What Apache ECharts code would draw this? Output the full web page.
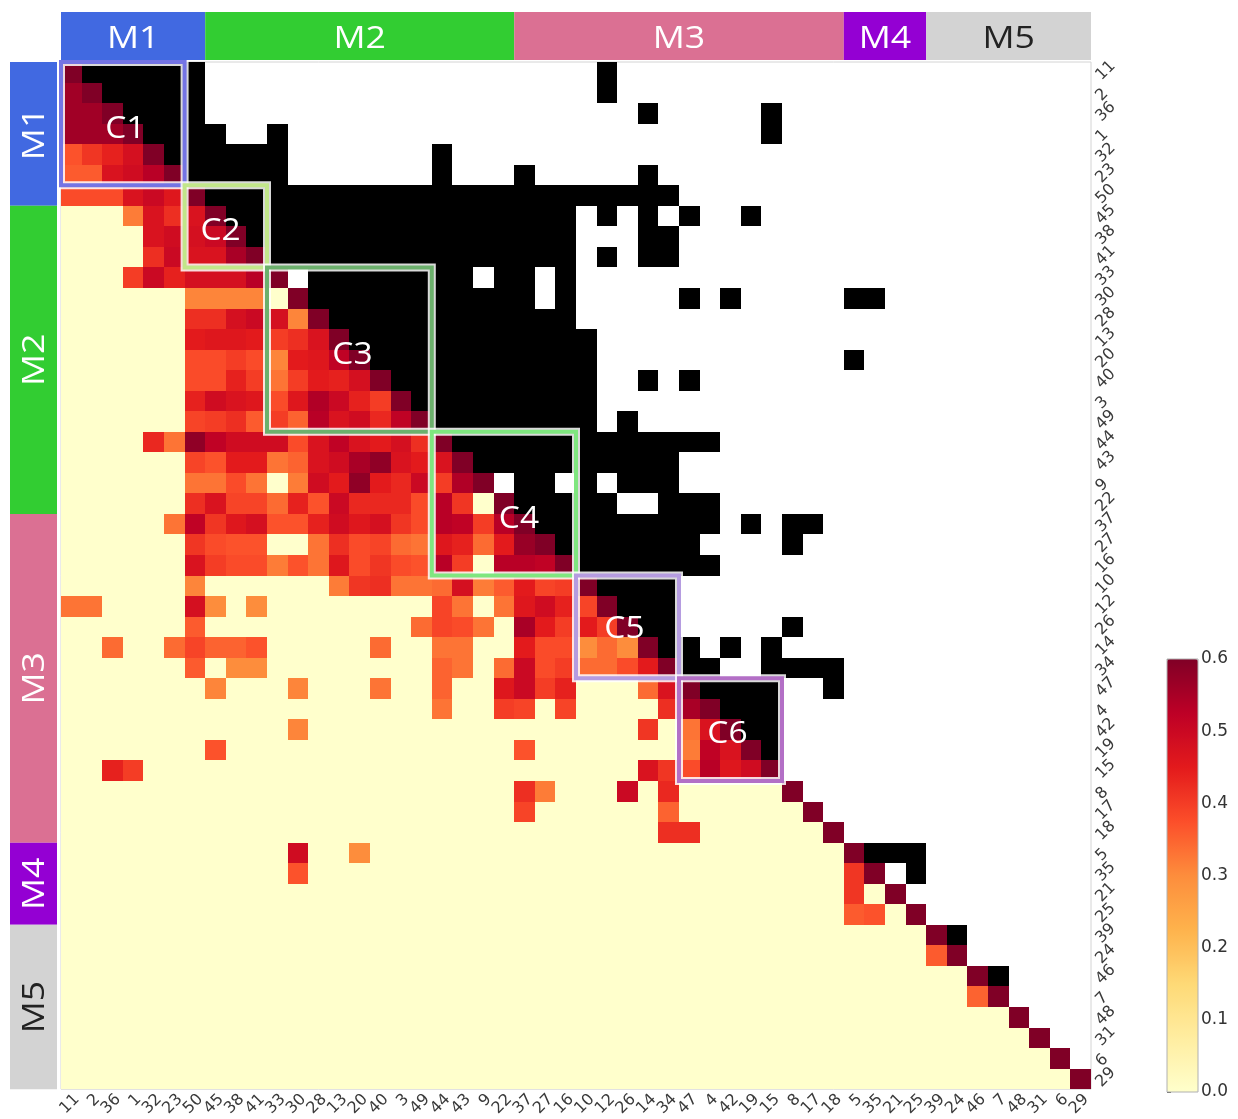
<!DOCTYPE html>
<html>
<head>
<meta charset="utf-8">
<script src="https://cdn.jsdelivr.net/npm/echarts@6/dist/echarts.min.js"></script>
<style>
  html, body { margin: 0; padding: 0; background: #fff; }
  #chart { width: 1238px; height: 1119px; }
</style>
</head>
<body>
<div id="chart"></div>
<script>
// Taxa in clustered order (rows top-to-bottom, columns left-to-right)
const taxa = ['11','2','36','1','32','23','50','45','38','41','33','30','28','13','20','40','3','49',
  '44','43','9','22','37','27','16','10','12','26','14','34','47','4','42','19','15','8','17','18',
  '5','35','21','25','39','24','46','7','48','31','6','29'];

// Modules: name, first index, last index
const moduleNames = ['M1', 'M2', 'M3', 'M4', 'M5'];
const moduleSpans = [[0, 6], [7, 21], [22, 37], [38, 41], [42, 49]];
const moduleColors = ['#4169e1', '#32cd32', '#db7093', '#9400d3', '#d3d3d3'];
const moduleTextColors = ['#ffffff', '#ffffff', '#ffffff', '#ffffff', '#222222'];

// Clusters along the diagonal
const clusterNames = ['C1', 'C2', 'C3', 'C4', 'C5', 'C6'];
const clusterSpans = [[0, 5], [6, 9], [10, 17], [18, 24], [25, 29], [30, 34]];
const clusterColors = ['#7474e4', '#c2e68a', '#6cb06c', '#7fe67f', '#b59ce0', '#b36fc6'];
// label nudge inside each box, in cell units (x, y)
const clusterLabelNudge = [[0.12, 0.26], [-0.25, 0.25], [0.15, 0.25], [0.73, 0.73], [-0.15, 0.1], [-0.15, 0.2]];

// Diagonal cells
const diagValue = 0.6;

// Lower triangle: [row, col, value]; any cell not listed is 0
const corrCells = [
  [1,0,.56],
  [2,0,.56],[2,1,.56],
  [3,0,.56],[3,1,.56],[3,2,.56],
  [4,0,.37],[4,1,.41],[4,2,.44],[4,3,.48],
  [5,0,.36],[5,1,.36],[5,2,.47],[5,3,.49],[5,4,.53],
  [6,0,.38],[6,1,.38],[6,2,.38],[6,3,.47],[6,4,.50],[6,5,.46],
  [7,3,.32],[7,4,.47],[7,5,.42],[7,6,.47],
  [8,4,.47],[8,5,.49],[8,6,.48],[8,7,.50],
  [9,4,.42],[9,5,.50],[9,6,.47],[9,7,.47],[9,8,.55],
  [10,3,.40],[10,4,.50],[10,5,.44],[10,6,.48],[10,7,.48],[10,8,.48],[10,9,.53],
  [11,6,.31],[11,7,.31],[11,8,.31],[11,9,.31],
  [12,6,.42],[12,7,.42],[12,8,.48],[12,9,.50],[12,10,.48],[12,11,.31],
  [13,6,.45],[13,7,.46],[13,8,.46],[13,9,.45],[13,10,.40],[13,11,.42],[13,12,.47],
  [14,6,.38],[14,7,.38],[14,8,.40],[14,9,.38],[14,10,.31],[14,11,.45],[14,12,.46],[14,13,.52],
  [15,6,.38],[15,7,.38],[15,8,.44],[15,9,.40],[15,10,.33],[15,11,.40],[15,12,.45],[15,13,.44],[15,14,.48],
  [16,6,.44],[16,7,.49],[16,8,.47],[16,9,.46],[16,10,.38],[16,11,.46],[16,12,.54],[16,13,.50],[16,14,.44],[16,15,.40],
  [17,6,.39],[17,7,.40],[17,8,.42],[17,9,.36],[17,10,.40],[17,11,.35],[17,12,.53],[17,13,.47],[17,14,.49],[17,15,.43],[17,16,.52],
  [18,4,.43],[18,5,.33],[18,6,.58],[18,7,.52],[18,8,.49],[18,9,.49],[18,10,.49],[18,11,.38],[18,12,.47],[18,13,.52],[18,14,.47],[18,15,.45],[18,16,.48],[18,17,.42],
  [19,6,.39],[19,7,.37],[19,8,.45],[19,9,.45],[19,10,.33],[19,11,.35],[19,12,.47],[19,13,.49],[19,14,.55],[19,15,.58],[19,16,.47],[19,17,.45],[19,18,.47],
  [20,6,.33],[20,7,.33],[20,8,.38],[20,9,.33],[20,11,.32],[20,12,.49],[20,13,.45],[20,14,.58],[20,15,.45],[20,16,.43],[20,17,.50],[20,18,.40],[20,19,.54],
  [21,6,.42],[21,7,.47],[21,8,.39],[21,9,.39],[21,10,.34],[21,11,.44],[21,12,.37],[21,13,.50],[21,14,.43],[21,15,.43],[21,16,.43],[21,17,.38],[21,18,.53],[21,19,.41],
  [22,5,.33],[22,6,.52],[22,7,.41],[22,8,.46],[22,9,.48],[22,10,.37],[22,11,.37],[22,12,.44],[22,13,.49],[22,14,.46],[22,15,.48],[22,16,.41],[22,17,.38],[22,18,.53],[22,19,.52],[22,20,.40],[22,21,.53],
  [23,6,.41],[23,7,.38],[23,8,.37],[23,9,.37],[23,12,.33],[23,13,.42],[23,14,.38],[23,15,.39],[23,16,.34],[23,17,.33],[23,18,.46],[23,19,.44],[23,20,.34],[23,21,.45],[23,22,.57],
  [24,6,.47],[24,7,.40],[24,8,.38],[24,9,.38],[24,10,.32],[24,11,.37],[24,12,.33],[24,13,.46],[24,14,.38],[24,15,.41],[24,16,.38],[24,17,.37],[24,18,.53],[24,19,.40],[24,21,.53],[24,22,.53],[24,23,.52],
  [25,6,.31],[25,13,.32],[25,14,.41],[25,15,.42],[25,16,.33],[25,17,.33],[25,18,.34],[25,19,.48],[25,20,.32],[25,21,.36],[25,22,.45],[25,23,.39],[25,24,.40],
  [26,0,.33],[26,1,.33],[26,6,.48],[26,7,.30],[26,9,.30],[26,18,.39],[26,19,.33],[26,21,.33],[26,22,.46],[26,23,.49],[26,24,.44],[26,25,.39],
  [27,6,.36],[27,17,.34],[27,18,.39],[27,19,.38],[27,20,.33],[27,22,.55],[27,23,.45],[27,24,.40],[27,25,.45],[27,26,.40],
  [28,2,.34],[28,5,.34],[28,6,.39],[28,7,.35],[28,8,.35],[28,9,.37],[28,15,.34],[28,18,.33],[28,19,.33],[28,22,.45],[28,23,.38],[28,24,.38],[28,25,.30],[28,26,.34],[28,27,.30],
  [29,6,.36],[29,8,.30],[29,9,.30],[29,18,.35],[29,19,.33],[29,21,.34],[29,22,.50],[29,23,.38],[29,24,.40],[29,25,.34],[29,26,.34],[29,27,.38],[29,28,.45],
  [30,7,.31],[30,11,.31],[30,15,.33],[30,18,.35],[30,21,.46],[30,22,.50],[30,23,.40],[30,24,.44],[30,28,.34],[30,29,.47],
  [31,18,.33],[31,21,.40],[31,22,.39],[31,24,.39],[31,29,.42],[31,30,.55],
  [32,11,.31],[32,28,.41],[32,30,.33],[32,31,.47],
  [33,7,.37],[33,22,.37],[33,30,.32],[33,31,.52],[33,32,.47],
  [34,2,.44],[34,3,.40],[34,28,.47],[34,29,.41],[34,30,.38],[34,31,.53],[34,32,.46],[34,33,.49],
  [35,22,.42],[35,23,.32],[35,27,.50],[35,29,.43],
  [36,22,.39],[36,29,.35],
  [37,29,.42],[37,30,.42],
  [38,11,.49],[38,14,.30],
  [39,11,.37],[39,38,.41],
  [40,38,.41],
  [41,38,.36],[41,39,.37],
  [43,42,.36],
  [45,44,.35]
];

// Upper triangle, significant pairs: [row, first col, last col]
const sigRuns = [
  [0,1,6],[0,26,26],
  [1,2,6],[1,26,26],
  [2,3,6],[2,28,28],[2,34,34],
  [3,4,7],[3,10,10],[3,34,34],
  [4,5,10],[4,18,18],
  [5,6,10],[5,18,18],[5,22,22],[5,28,28],
  [6,7,29],
  [7,8,24],[7,26,26],[7,28,28],[7,30,30],[7,33,33],
  [8,9,24],[8,28,29],
  [9,10,24],[9,26,26],[9,28,29],
  [10,12,19],[10,21,22],[10,24,24],
  [11,12,22],[11,24,24],[11,30,30],[11,32,32],[11,38,39],
  [12,13,24],
  [13,14,25],
  [14,15,25],[14,38,38],
  [15,16,25],[15,28,28],[15,30,30],
  [16,17,25],
  [17,18,25],[17,27,27],
  [18,19,31],
  [19,20,29],
  [20,22,23],[20,25,25],[20,27,29],
  [21,22,26],[21,29,31],
  [22,23,31],[22,33,33],[22,35,36],
  [23,24,30],[23,35,35],
  [24,25,31],
  [25,26,29],
  [26,27,29],
  [27,28,29],[27,35,35],
  [28,29,30],[28,32,32],[28,34,34],
  [29,30,31],[29,34,37],
  [30,31,34],[30,37,37],
  [31,32,34],
  [32,33,34],
  [33,34,34],
  [38,39,41],
  [39,41,41],
  [42,43,43],
  [44,45,45]
];

const colorScale = ['#ffffcc','#ffeda0','#fed976','#feb24c','#fd8d3c','#fc4e2a','#e31a1c','#bd0026','#800026'];

// ---- build series data ----
const n = taxa.length;
const lowerMap = {};
corrCells.forEach(([r, c, v]) => { lowerMap[r + ',' + c] = v; });
const heatData = [];
for (let r = 0; r < n; r++) {
  for (let c = 0; c <= r; c++) {
    const v = c === r ? diagValue : (lowerMap[r + ',' + c] !== undefined ? lowerMap[r + ',' + c] : 0);
    heatData.push([c, r, v]);
  }
}
const sigData = [];
sigRuns.forEach(([r, a, b]) => { for (let c = a; c <= b; c++) sigData.push([c, r]); });

const clusterData = clusterSpans.map((s, i) => [s[0], s[1], i]);
const moduleData = moduleSpans.map((s, i) => [s[0], s[1], i]);

// pixel rectangle of one cell, snapped so neighbours share edges
function cellBox(api, c, r) {
  const p = api.coord([c, r]);
  const s = api.size([1, 1]);
  const x0 = Math.round(p[0] - s[0] / 2), x1 = Math.round(p[0] + s[0] / 2);
  const y0 = Math.round(p[1] - s[1] / 2), y1 = Math.round(p[1] + s[1] / 2);
  return { x: x0, y: y0, width: x1 - x0, height: y1 - y0 };
}

const labelFont = 'Open Sans';
const tickLabel = { interval: 0, rotate: 45, fontSize: 16, color: '#3a3a3a', margin: 2, verticalAlign: 'top', fontFamily: 'DejaVu Sans' };

const chart = echarts.init(document.getElementById('chart'), null, { renderer: 'canvas' });
chart.setOption({
  animation: false,
  backgroundColor: '#ffffff',
  grid: [
    { left: 61, top: 62, width: 1030, height: 1030, show: true, backgroundColor: '#ffffff', borderColor: '#d4d4d4', borderWidth: 1 },
    { left: 1167, top: 659, width: 31, height: 433, show: true, backgroundColor: 'transparent', borderColor: '#b0b0b0', borderWidth: 1, z: 6 }
  ],
  xAxis: [
    {
      type: 'category', data: taxa, gridIndex: 0, position: 'bottom',
      axisLine: { show: false }, axisTick: { show: false }, splitLine: { show: false },
      axisLabel: tickLabel
    },
    { type: 'value', gridIndex: 1, show: false, min: 0, max: 1 }
  ],
  yAxis: [
    {
      type: 'category', data: taxa, gridIndex: 0, inverse: true, position: 'right',
      axisLine: { show: false }, axisTick: { show: false }, splitLine: { show: false },
      axisLabel: tickLabel
    },
    {
      type: 'value', gridIndex: 1, position: 'right', min: 0, max: 0.6, interval: 0.1,
      axisLine: { show: false }, splitLine: { show: false },
      axisTick: { show: true, length: 4, lineStyle: { color: '#555' } },
      axisLabel: { fontSize: 17, color: '#333', margin: 3, fontFamily: 'DejaVu Sans', formatter: v => v.toFixed(1) }
    }
  ],
  visualMap: {
    type: 'continuous', seriesIndex: 0, dimension: 2, min: 0, max: 0.6,
    left: 1167, top: 659, itemWidth: 31, itemHeight: 433, padding: 0,
    calculable: false, hoverLink: false,
    inRange: { color: colorScale }
  },
  series: [
    {
      name: 'correlation', type: 'custom', xAxisIndex: 0, yAxisIndex: 0,
      dimensions: ['col', 'row', 'value'], encode: { x: 0, y: 1 },
      data: heatData,
      renderItem: (params, api) => ({
        type: 'rect', shape: cellBox(api, api.value(0), api.value(1)),
        style: { fill: api.visual('color') }
      })
    },
    {
      name: 'significant', type: 'custom', xAxisIndex: 0, yAxisIndex: 0,
      encode: { x: 0, y: 1 },
      data: sigData,
      renderItem: (params, api) => ({
        type: 'rect', shape: cellBox(api, api.value(0), api.value(1)),
        style: { fill: '#000000' }
      })
    },
    {
      name: 'clusters', type: 'custom', xAxisIndex: 0, yAxisIndex: 0, z: 5,
      encode: { x: 0, y: 1 },
      data: clusterData,
      renderItem: (params, api) => {
        const a = api.value(0), b = api.value(1), k = api.value(2);
        const p0 = api.coord([a, a]), p1 = api.coord([b, b]), s = api.size([1, 1]);
        const x = p0[0] - s[0] / 2, y = p0[1] - s[1] / 2;
        const w = p1[0] - p0[0] + s[0], h = p1[1] - p0[1] + s[1];
        const nudge = clusterLabelNudge[k];
        return {
          type: 'group',
          children: [
            { type: 'rect', shape: { x, y, width: w, height: h }, style: { fill: 'none', stroke: 'rgba(255,255,255,0.85)', lineWidth: 8 } },
            { type: 'rect', shape: { x, y, width: w, height: h }, style: { fill: 'none', stroke: clusterColors[k], lineWidth: 4 } },
            { type: 'text', x: x + w / 2 + nudge[0] * s[0], y: y + h / 2 + nudge[1] * s[1], scaleX: 1.08,
              style: { text: clusterNames[k], fill: '#ffffff', fontSize: 31, fontFamily: labelFont, align: 'center', verticalAlign: 'middle' } }
          ]
        };
      }
    },
    {
      name: 'modules', type: 'custom', xAxisIndex: 0, yAxisIndex: 0, z: 6,
      encode: { x: 0, y: 1 },
      data: moduleData,
      renderItem: (params, api) => {
        const a = api.value(0), b = api.value(1), k = api.value(2);
        const s = api.size([1, 1]);
        const first = api.coord([0, 0]);
        const gx = first[0] - s[0] / 2, gy = first[1] - s[1] / 2;
        const pa = api.coord([a, a]), pb = api.coord([b, b]);
        const x0 = pa[0] - s[0] / 2, x1 = pb[0] + s[0] / 2;
        const y0 = pa[1] - s[1] / 2, y1 = pb[1] + s[1] / 2;
        const txt = { text: moduleNames[k], fill: moduleTextColors[k], fontSize: 31, fontFamily: labelFont, align: 'center', verticalAlign: 'middle' };
        return {
          type: 'group',
          children: [
            { type: 'rect', shape: { x: x0, y: gy - 50, width: x1 - x0, height: 48 }, style: { fill: moduleColors[k] } },
            { type: 'text', x: (x0 + x1) / 2, y: gy - 23, scaleX: 1.15, style: txt },
            { type: 'rect', shape: { x: gx - 51, y: y0, width: 47, height: y1 - y0 }, style: { fill: moduleColors[k] } },
            { type: 'text', x: gx - 26, y: (y0 + y1) / 2, rotation: Math.PI / 2, scaleX: 1.15, style: txt }
          ]
        };
      }
    }
  ]
});
</script>
</body>
</html>
